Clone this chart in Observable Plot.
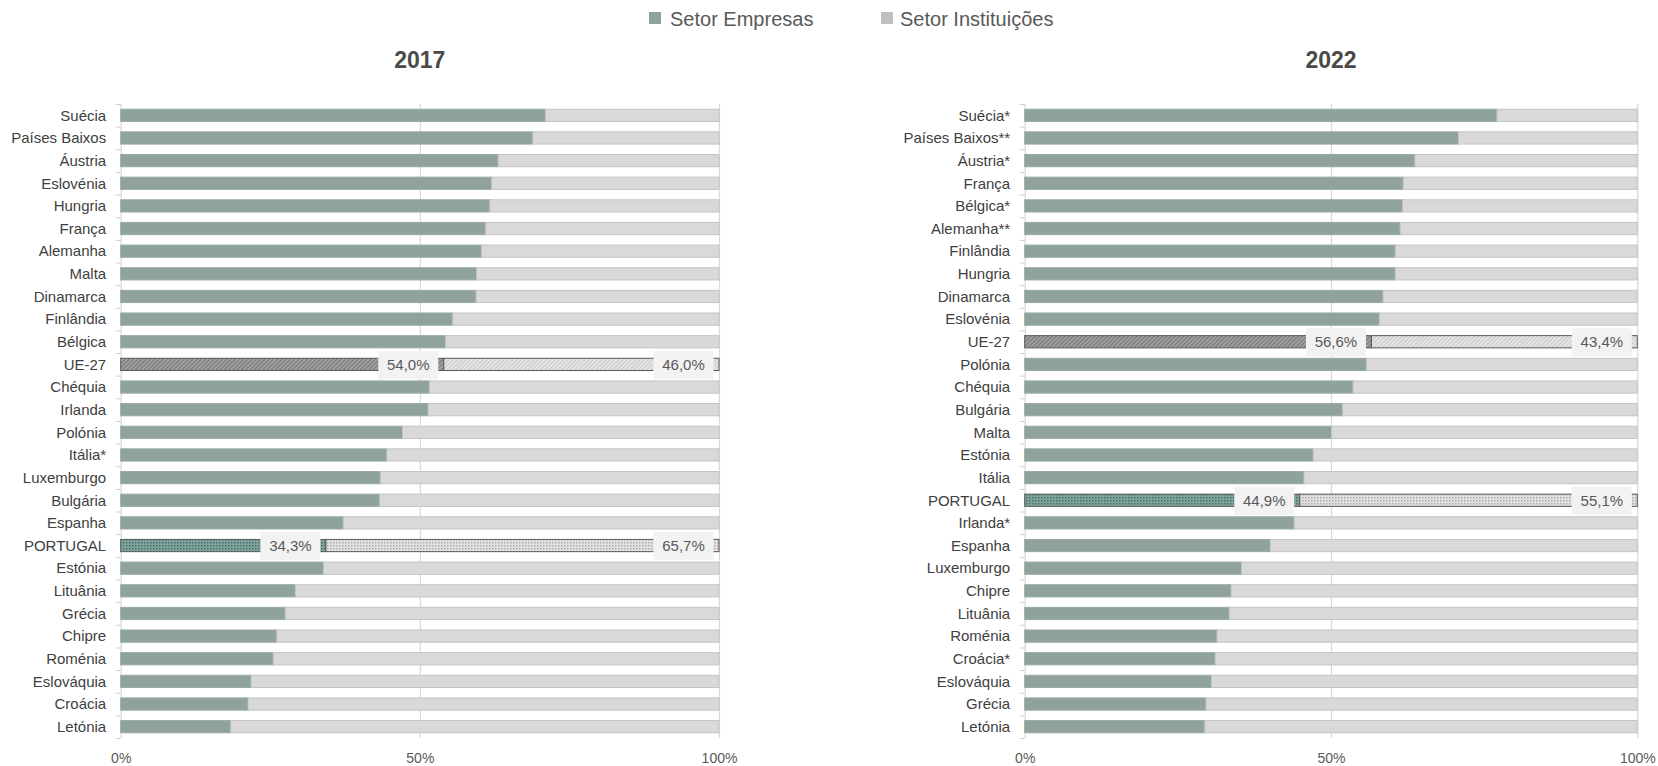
<!DOCTYPE html>
<html>
<head>
<meta charset="utf-8">
<script src="https://cdn.jsdelivr.net/npm/d3@7"></script>
<script src="https://cdn.jsdelivr.net/npm/@observablehq/plot@0.6"></script>
<style>
  html, body { margin: 0; padding: 0; background: #ffffff; }
  #root { position: relative; width: 1658px; height: 766px; overflow: hidden;
          font-family: 'Liberation Sans', Arial, sans-serif; }
  .panel { position: absolute; top: 80px; }
  .title { position: absolute; top: 46px; text-align: center; font-size: 23px; font-weight: bold;
           color: #4a4a4a; line-height: 28px; }
  .lg-sq { position: absolute; top: 12px; width: 12px; height: 12px; }
  .lg-tx { position: absolute; top: 7px; font-size: 20px; line-height: 24px; color: #595959; white-space: nowrap; }
</style>
</head>
<body>
<svg width="0" height="0" style="position:absolute">
  <defs>
    <pattern id="hatchDark" width="3" height="3" patternUnits="userSpaceOnUse" patternTransform="rotate(45)">
      <rect width="3" height="3" fill="#a9a9a9"/>
      <rect width="1.5" height="3" fill="#7a7a7a"/>
    </pattern>
    <pattern id="hatchLight" width="3" height="3" patternUnits="userSpaceOnUse" patternTransform="rotate(45)">
      <rect width="3" height="3" fill="#cbcbcb"/>
      <rect width="1.5" height="3" fill="#ebebeb"/>
    </pattern>
    <pattern id="dotDark" width="3" height="3" patternUnits="userSpaceOnUse">
      <rect width="3" height="3" fill="#7fa49d"/>
      <rect width="1.5" height="1.5" fill="#46706a"/>
    </pattern>
    <pattern id="dotLight" width="3" height="3" patternUnits="userSpaceOnUse">
      <rect width="3" height="3" fill="#e2e2e2"/>
      <rect width="1.5" height="1.5" fill="#ababab"/>
    </pattern>
  </defs>
</svg>
<div id="root">
  <div class="lg-sq" style="left:649px;background:#8fa39c"></div>
  <div class="lg-tx" style="left:670px">Setor Empresas</div>
  <div class="lg-sq" style="left:881px;background:#bfbfbf"></div>
  <div class="lg-tx" style="left:900px">Setor Instituições</div>
  <div class="title" style="left:120.7px;width:598.3px">2017</div>
  <div class="title" style="left:1024.7px;width:612.6px">2022</div>
  <div class="panel" id="left" style="left:0px"></div>
  <div class="panel" id="right" style="left:900px"></div>
</div>
<script>
// ---- data ----
const sectors = ["Empresas", "Instituições"];
const highlighted = ["UE-27", "PORTUGAL"];
const xTicks = [0, 50, 100];

const cats2017 = ["Suécia","Países Baixos","Áustria","Eslovénia","Hungria","França","Alemanha","Malta","Dinamarca","Finlândia","Bélgica","UE-27","Chéquia","Irlanda","Polónia","Itália*","Luxemburgo","Bulgária","Espanha","PORTUGAL","Estónia","Lituânia","Grécia","Chipre","Roménia","Eslováquia","Croácia","Letónia"];
const empresas2017 = [71.0, 68.9, 63.1, 62.0, 61.7, 61.0, 60.3, 59.5, 59.4, 55.5, 54.3, 54.0, 51.6, 51.4, 47.1, 44.5, 43.4, 43.3, 37.2, 34.3, 33.9, 29.2, 27.5, 26.1, 25.5, 21.8, 21.3, 18.4];
const instituicoes2017 = [29.0, 31.1, 36.9, 38.0, 38.3, 39.0, 39.7, 40.5, 40.6, 44.5, 45.7, 46.0, 48.4, 48.6, 52.9, 55.5, 56.6, 56.7, 62.8, 65.7, 66.1, 70.8, 72.5, 73.9, 74.5, 78.2, 78.7, 81.6];

const cats2022 = ["Suécia*","Países Baixos**","Áustria*","França","Bélgica*","Alemanha**","Finlândia","Hungria","Dinamarca","Eslovénia","UE-27","Polónia","Chéquia","Bulgária","Malta","Estónia","Itália","PORTUGAL","Irlanda*","Espanha","Luxemburgo","Chipre","Lituânia","Roménia","Croácia*","Eslováquia","Grécia","Letónia"];
const empresas2022 = [77.1, 70.8, 63.7, 61.8, 61.7, 61.3, 60.5, 60.5, 58.5, 57.9, 56.6, 55.8, 53.6, 51.9, 50.1, 47.1, 45.6, 44.9, 44.0, 40.1, 35.4, 33.7, 33.4, 31.4, 31.1, 30.5, 29.6, 29.4];
const instituicoes2022 = [22.9, 29.2, 36.3, 38.2, 38.3, 38.7, 39.5, 39.5, 41.5, 42.1, 43.4, 44.2, 46.4, 48.1, 49.9, 52.9, 54.4, 55.1, 56.0, 59.9, 64.6, 66.3, 66.6, 68.6, 68.9, 69.5, 70.4, 70.6];

// ---- styling ----
const FONT = "'Liberation Sans', Arial, sans-serif";
const colEmp = "#8fa39c", colInst = "#d9d9d9";
const H = 686, MT = 24, MB = 28;
const step = (H - MT - MB) / cats2017.length;
const fmt = v => v.toFixed(1).replace(".", ",") + "%";
const boxSymbol = { draw(ctx) { ctx.moveTo(-30, -14); ctx.lineTo(30, -14); ctx.lineTo(30, 14); ctx.lineTo(-30, 14); ctx.closePath(); } };

function fillOf(d) {
  if (d.cat === "UE-27") return d.sector === sectors[0] ? "url(#hatchDark)" : "url(#hatchLight)";
  if (d.cat === "PORTUGAL") return d.sector === sectors[0] ? "url(#dotDark)" : "url(#dotLight)";
  return d.sector === sectors[0] ? colEmp : colInst;
}
function strokeOf(d) {
  if (highlighted.includes(d.cat)) return "#595959";
  return d.sector === sectors[0] ? "#97aaa4" : "#c4c4c4";
}

function panel(cats, emp, inst, width, marginLeft, marginRight) {
  const rows = cats.flatMap((c, i) => [
    {cat: c, sector: sectors[0], value: emp[i]},
    {cat: c, sector: sectors[1], value: inst[i]}
  ]);
  const labels = rows.filter(d => highlighted.includes(d.cat));
  return Plot.plot({
    width, height: H, marginLeft, marginRight, marginTop: MT, marginBottom: MB,
    style: {fontFamily: FONT, background: "transparent", overflow: "visible"},
    x: {domain: [0, 100], axis: null, label: null},
    y: {domain: cats, paddingInner: 0.46, paddingOuter: 0.23, align: 0.5, round: false, axis: null, label: null},
    marks: [
      Plot.ruleX(xTicks, {stroke: "#d9d9d9", strokeWidth: 1.2}),
      Plot.axisY({tickSize: 5, tickFormat: () => "", dy: -step / 2, stroke: "#d0d0d0", label: null}),
      Plot.axisY({ticks: [cats[cats.length - 1]], tickSize: 5, tickFormat: () => "", dy: step / 2, stroke: "#d0d0d0", label: null}),
      Plot.barX(rows, Plot.stackX({
        y: "cat", x: "value",
        fill: {value: fillOf, scale: null},
        stroke: {value: strokeOf, scale: null},
        strokeWidth: 1
      })),
      Plot.dot(labels, Plot.stackX2({y: "cat", x: "value", symbol: boxSymbol, r: 3, fill: "#f2f2f2", dx: -36})),
      Plot.text(labels, Plot.stackX2({y: "cat", x: "value", text: d => fmt(d.value), dx: -36, fontSize: 15, fill: "#595959"})),
      Plot.axisY({tickSize: 0, tickPadding: 15, fontSize: 15, color: "#404040", label: null}),
      Plot.axisX({ticks: xTicks, tickFormat: d => d + "%", tickSize: 0, tickPadding: 15, fontSize: 14, color: "#595959", label: null})
    ]
  });
}

document.getElementById("left").appendChild(panel(cats2017, empresas2017, instituicoes2017, 740, 120.7, 21));
document.getElementById("right").appendChild(panel(cats2022, empresas2022, instituicoes2022, 758, 124.7, 20.7));
</script>
</body>
</html>
